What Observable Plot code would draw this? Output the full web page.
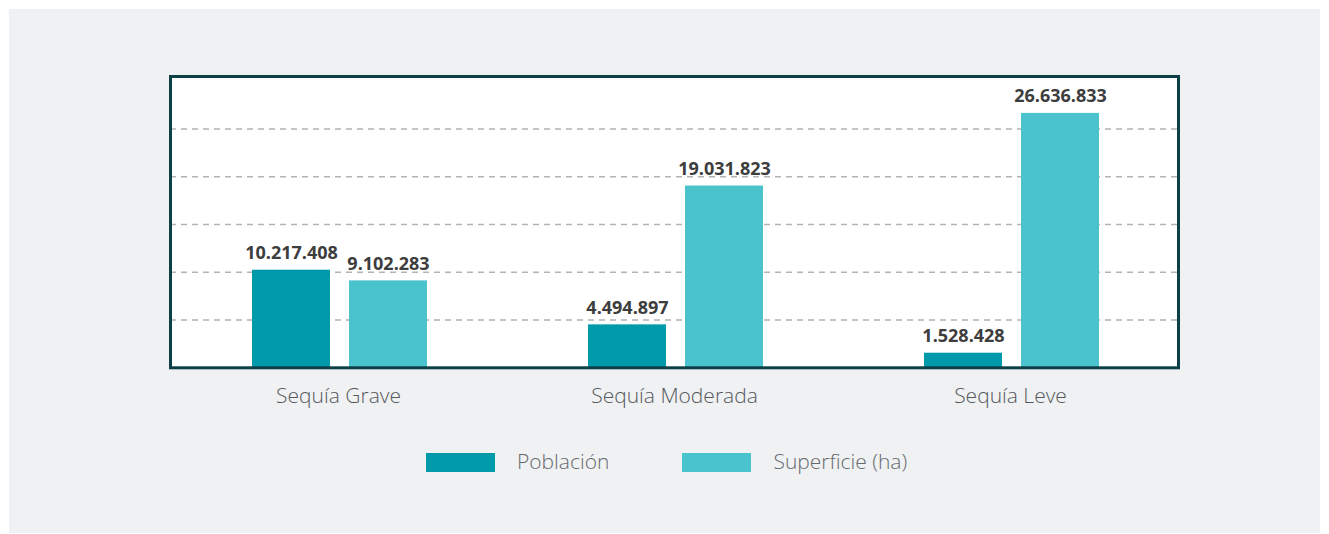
<!DOCTYPE html>
<html>
<head>
<meta charset="utf-8">
<script src="https://cdn.jsdelivr.net/npm/d3@7"></script>
<script src="https://cdn.jsdelivr.net/npm/@observablehq/plot@0.6"></script>
<style>
  html, body { margin: 0; padding: 0; background: #ffffff; }
  #panel { position: absolute; left: 9px; top: 9px; width: 1311px; height: 524px; background: #f0f1f3; }
  #chart { position: absolute; left: 0; top: 0; }
  #legend { position: absolute; left: 426px; top: 447px; display: flex; align-items: center;
            font-family: "Open Sans", sans-serif; font-weight: 300; font-size: 21px; color: #666a6e; }
  .item { display: flex; align-items: center; margin-right: 73px; }
  .sw { width: 69px; height: 19px; margin-right: 22px; margin-top: 3px; }
</style>
</head>
<body>
<div id="panel"></div>
<div id="chart"></div>
<div id="legend"></div>
<script>
const categories = ["Sequía Grave", "Sequía Moderada", "Sequía Leve"];
const series = ["Población", "Superficie (ha)"];
const poblacion = [10217408, 4494897, 1528428];
const superficie = [9102283, 19031823, 26636833];
const gridValues = [5000000, 10000000, 15000000, 20000000, 25000000];
const colors = ["#009aab", "#4bc3cc"];

const fmt = d3.formatLocale({decimal: ",", thousands: ".", grouping: [3], currency: ["", ""]}).format(",d");

const pobData = categories.map((c, i) => ({category: c, value: poblacion[i]}));
const supData = categories.map((c, i) => ({category: c, value: superficie[i]}));

const labelFont = {fontFamily: "Open Sans, sans-serif", fontWeight: 700, fontSize: 18, fill: "#3d3d3d"};

const chart = Plot.plot({
  width: 1329,
  height: 420,
  marginLeft: 170,
  marginRight: 151,
  marginTop: 76,
  marginBottom: 52.7,
  style: {background: "transparent", fontFamily: "Open Sans, sans-serif"},
  x: {domain: categories, padding: 0, label: null},
  y: {domain: [0, 30500000], axis: null},
  marks: [
    Plot.frame({fill: "white", stroke: "none"}),
    Plot.ruleY(gridValues, {stroke: "#b3b3b3", strokeWidth: 1.5, strokeDasharray: "6,5"}),
    Plot.barY(pobData, {x: "category", y: "value", fill: colors[0], insetLeft: 82, insetRight: 176}),
    Plot.barY(supData, {x: "category", y: "value", fill: colors[1], insetLeft: 179, insetRight: 79}),
    Plot.text(pobData, {x: "category", y: "value", text: d => fmt(d.value), dx: -47, dy: -11, lineAnchor: "bottom", ...labelFont}),
    Plot.text(supData, {x: "category", y: "value", text: d => fmt(d.value), dx: 50, dy: -11, lineAnchor: "bottom", ...labelFont}),
    Plot.frame({stroke: "#0d3f47", strokeWidth: 3}),
    Plot.axisX({tickSize: 0, tickPadding: 20, fontSize: 21, fill: "#55595d", fontWeight: 300, label: null})
  ]
});
document.getElementById("chart").appendChild(chart);

const legend = document.getElementById("legend");
series.forEach((s, i) => {
  const item = document.createElement("div");
  item.className = "item";
  const sw = document.createElement("div");
  sw.className = "sw";
  sw.style.background = colors[i];
  const t = document.createElement("span");
  t.textContent = s;
  item.appendChild(sw);
  item.appendChild(t);
  legend.appendChild(item);
});
</script>
</body>
</html>
